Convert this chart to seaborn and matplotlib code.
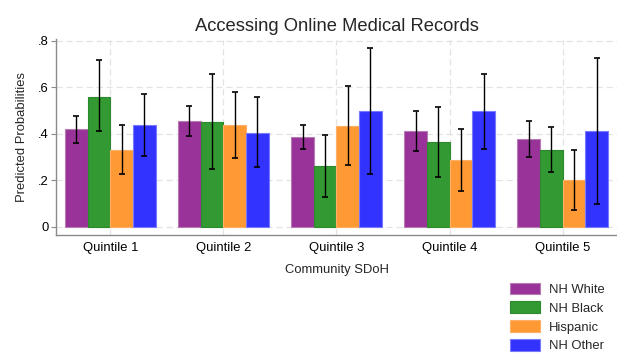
import numpy as np
import pandas as pd
import matplotlib
matplotlib.use("Agg")
import matplotlib.pyplot as plt
import seaborn as sns

# Predicted probabilities with 95% confidence limits
quintiles = ["Quintile 1", "Quintile 2", "Quintile 3", "Quintile 4", "Quintile 5"]
groups = ["NH White", "NH Black", "Hispanic", "NH Other"]

nh_white = [0.419, 0.456, 0.385, 0.410, 0.376]
nh_black = [0.560, 0.452, 0.261, 0.363, 0.330]
hispanic = [0.330, 0.437, 0.433, 0.288, 0.201]
nh_other = [0.436, 0.403, 0.499, 0.497, 0.410]

nh_white_lo = [0.360, 0.390, 0.335, 0.328, 0.299]
nh_white_hi = [0.475, 0.520, 0.439, 0.496, 0.456]
nh_black_lo = [0.410, 0.250, 0.128, 0.214, 0.237]
nh_black_hi = [0.715, 0.658, 0.395, 0.516, 0.427]
hispanic_lo = [0.225, 0.296, 0.264, 0.155, 0.074]
hispanic_hi = [0.436, 0.580, 0.606, 0.420, 0.330]
nh_other_lo = [0.305, 0.256, 0.228, 0.336, 0.098]
nh_other_hi = [0.570, 0.556, 0.769, 0.658, 0.724]

values = [nh_white, nh_black, hispanic, nh_other]
lows = [nh_white_lo, nh_black_lo, hispanic_lo, nh_other_lo]
highs = [nh_white_hi, nh_black_hi, hispanic_hi, nh_other_hi]

fills = ["#993399", "#339933", "#FF9933", "#3333FF"]
edges = ["#B77BB5", "#2A8A2D", "#FFB066", "#7A7AFF"]

df = pd.DataFrame({
    "quintile": quintiles * len(groups),
    "group": [g for g in groups for _ in quintiles],
    "prob": [v for series in values for v in series],
})

sns.set_style("white")
plt.rcParams["font.family"] = ["Liberation Sans", "DejaVu Sans"]

fig = plt.figure(figsize=(6.17, 3.56), dpi=100)
ax = fig.add_axes([56 / 617, 121 / 356, 561 / 617, 195.5 / 356])

sns.barplot(data=df, x="quintile", y="prob", hue="group", order=quintiles,
            hue_order=groups, palette=fills, saturation=1, width=0.8,
            errorbar=None, ax=ax, legend=False, zorder=2)

# bar outlines and confidence intervals
for container, lo, hi, ec in zip(ax.containers, lows, highs, edges):
    xs, ys = [], []
    for bar in container:
        bar.set_edgecolor(ec)
        bar.set_linewidth(0.8)
        xs.append(bar.get_x() + bar.get_width() / 2)
        ys.append(bar.get_height())
    ys = np.array(ys)
    yerr = np.vstack([ys - np.array(lo), np.array(hi) - ys])
    ax.errorbar(xs, ys, yerr=yerr, fmt="none", ecolor="black",
                elinewidth=1.0, capsize=2.0, capthick=1.2, zorder=3)

ax.set_xlim(-0.48, 4.48)
ax.set_ylim(-0.035, 0.805)
ax.set_yticks([0, 0.2, 0.4, 0.6, 0.8])
ax.set_yticklabels(["0", ".2", ".4", ".6", ".8"])

ax.grid(True, axis="both", color="#E3E3E3", linestyle=(0, (5, 3)), linewidth=0.9, zorder=0)
ax.set_axisbelow(True)

for side in ["top", "right"]:
    ax.spines[side].set_visible(False)
for side in ["left", "bottom"]:
    ax.spines[side].set_color("#8A8A8A")
    ax.spines[side].set_linewidth(1.0)

ax.tick_params(axis="y", length=3.6, width=0.8, color="#8A8A8A", pad=1.5,
               labelsize=9.4, labelcolor="black", left=True)
ax.tick_params(axis="x", length=0, pad=5.0, labelsize=9.4, labelcolor="black")

ax.set_xlabel("Community SDoH", fontsize=9.4, labelpad=7)
ax.set_ylabel("Predicted Probabilities", fontsize=9.4, labelpad=7)
ax.set_title("Accessing Online Medical Records", fontsize=13.2, pad=6)

handles = [plt.Rectangle((0, 0), 1, 1, facecolor=f, edgecolor=e, linewidth=0.8)
           for f, e in zip(fills, edges)]
fig.legend(handles, groups, loc="upper left", bbox_to_anchor=(510 / 617, 1 - 282.6 / 356),
           frameon=False, fontsize=9.4, handlelength=2.3, handleheight=0.98,
           handletextpad=0.66, labelspacing=0.43, borderpad=0, borderaxespad=0)

fig.savefig("out.png", dpi=100)
